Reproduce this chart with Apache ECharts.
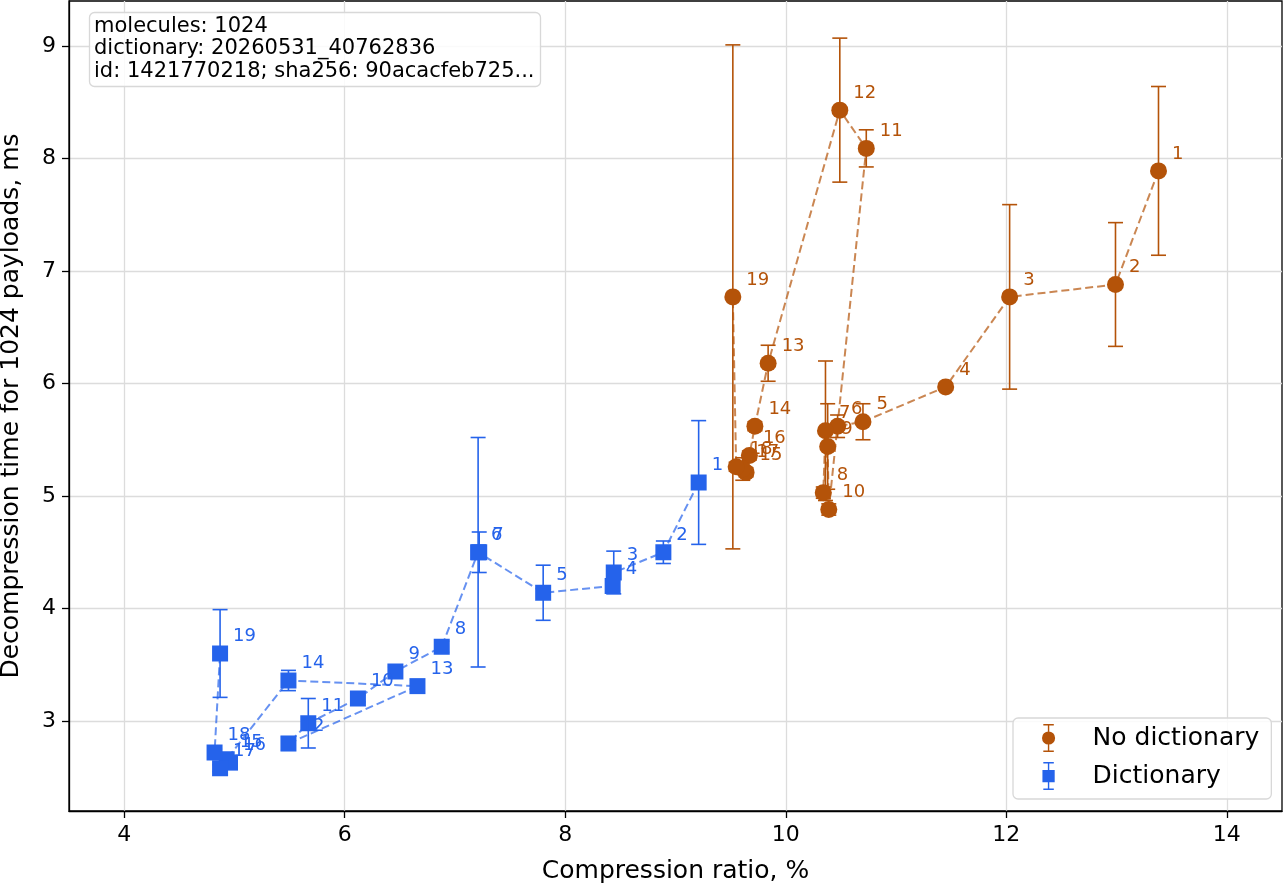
<!DOCTYPE html>
<html>
<head>
<meta charset="utf-8">
<script src="https://cdn.jsdelivr.net/npm/echarts@6/dist/echarts.min.js"></script>
<style>html,body{margin:0;padding:0;background:#fff}#c{width:1284px;height:888px}</style>
</head>
<body>
<div id="c"></div>
<script>
// ---- data ----
const xTicks = [4, 6, 8, 10, 12, 14];
const yTicks = [3, 4, 5, 6, 7, 8, 9];

const noDictX   = [13.38, 12.99, 12.03, 11.45, 10.70, 10.47, 10.36, 10.34, 10.38, 10.39, 10.73, 10.49, 9.84, 9.72, 9.64, 9.67, 9.61, 9.55, 9.52];
const noDictY   = [7.89, 6.88, 6.77, 5.97, 5.66, 5.62, 5.58, 5.03, 5.44, 4.88, 8.09, 8.43, 6.18, 5.62, 5.21, 5.36, 5.24, 5.26, 6.77];
const noDictErr = [0.75, 0.55, 0.82, 0.03, 0.16, 0.10, 0.62, 0.05, 0.38, 0.05, 0.165, 0.64, 0.16, 0.04, 0.04, 0.04, 0.10, 0.04, 2.24];

const dictX   = [9.21, 8.89, 8.44, 8.43, 7.80, 7.21, 7.22, 6.88, 6.46, 6.12, 5.67, 5.49, 6.66, 5.49, 4.93, 4.96, 4.87, 4.82, 4.87];
const dictY   = [5.12, 4.50, 4.32, 4.20, 4.14, 4.50, 4.50, 3.66, 3.44, 3.20, 2.98, 2.80, 3.31, 3.36, 2.66, 2.63, 2.58, 2.72, 3.60];
const dictErr = [0.55, 0.10, 0.19, 0.04, 0.245, 1.02, 0.18, 0.05, 0.04, 0.03, 0.22, 0.06, 0.05, 0.09, 0.04, 0.04, 0.03, 0.03, 0.39];

const infoLines = ['molecules: 1024', 'dictionary: 20260531_40762836', 'id: 1421770218; sha256: 90acacfeb725...'];

const ORANGE = '#b45309';
const BLUE = '#2563eb';
const FONT = 'DejaVu Sans';

// ---- build ----
function pairs(xs, ys) { return xs.map((x, i) => [x, ys[i]]); }
function triples(xs, ys, es) { return xs.map((x, i) => [x, ys[i], es[i]]); }

function errRender(color) {
  return function (params, api) {
    const x = api.value(0), y = api.value(1), e = api.value(2);
    const t = api.coord([x, y + e]);
    const b = api.coord([x, y - e]);
    const hw = 7.5;
    const st = { stroke: color, lineWidth: 1.6 };
    return {
      type: 'group',
      children: [
        { type: 'line', shape: { x1: t[0], y1: t[1], x2: b[0], y2: b[1] }, style: st },
        { type: 'line', shape: { x1: t[0] - hw, y1: t[1], x2: t[0] + hw, y2: t[1] }, style: st },
        { type: 'line', shape: { x1: b[0] - hw, y1: b[1], x2: b[0] + hw, y2: b[1] }, style: st }
      ]
    };
  };
}

const iconCircle = 'path://M4,0L16,0L16,1.6L4,1.6Z M9.2,0L10.8,0L10.8,8.6L9.2,8.6Z M2.5,16A7.5,7.5 0 1 1 17.5,16A7.5,7.5 0 1 1 2.5,16Z M9.2,23.4L10.8,23.4L10.8,32L9.2,32Z M4,30.4L16,30.4L16,32L4,32Z';
const iconSquare = 'path://M4,0L16,0L16,1.6L4,1.6Z M9.2,0L10.8,0L10.8,9L9.2,9Z M3,9L17,9L17,23L3,23Z M9.2,23L10.8,23L10.8,32L9.2,32Z M4,30.4L16,30.4L16,32L4,32Z';

function scatterSeries(name, xs, ys, color, symbol, size) {
  return {
    name: name, type: 'scatter', data: pairs(xs, ys), z: 5,
    symbol: symbol, symbolSize: size,
    itemStyle: { color: color, opacity: 1 },
    label: {
      show: true, position: 'right', distance: 5, offset: [0, -17],
      formatter: p => String(p.dataIndex + 1),
      color: color, fontSize: 18, fontFamily: FONT
    },
    emphasis: { disabled: true }
  };
}
function lineSeries(name, xs, ys, color) {
  return {
    name: name, type: 'line', data: pairs(xs, ys), z: 2,
    symbol: 'none', showSymbol: false,
    lineStyle: { color: color, width: 2, type: [8, 4], opacity: 0.7 },
    emphasis: { disabled: true }
  };
}
function errSeries(name, xs, ys, es, color) {
  return {
    name: name, type: 'custom', data: triples(xs, ys, es), z: 3,
    encode: { x: 0, y: 1 },
    renderItem: errRender(color)
  };
}

const chart = echarts.init(document.getElementById('c'), null, { renderer: 'canvas' });
chart.setOption({
  animation: false,
  backgroundColor: '#fff',
  textStyle: { fontFamily: FONT },
  grid: { left: 69, right: 2, top: 1, bottom: 77, outerBoundsMode: 'none', containLabel: false,
          show: true, borderColor: '#000', borderWidth: 1.3, backgroundColor: 'transparent' },
  title: {
    text: infoLines.join('\n'),
    left: 89, top: 12,
    padding: [3, 6, 4, 5],
    backgroundColor: 'rgba(255,255,255,0.85)',
    borderColor: '#d8d8d8', borderWidth: 1.3, borderRadius: 5,
    textStyle: { fontSize: 21, fontWeight: 'normal', color: '#000', lineHeight: 22.5, fontFamily: FONT }
  },
  legend: {
    data: [
      { name: 'No dictionary', icon: iconCircle },
      { name: 'Dictionary', icon: iconSquare }
    ],
    orient: 'vertical',
    left: 1013, top: 718,
    padding: [6, 12, 9, 29],
    itemWidth: 18, itemHeight: 28, itemGap: 10,
    backgroundColor: 'rgba(255,255,255,0.85)',
    borderColor: '#d8d8d8', borderWidth: 1.3, borderRadius: 5,
    formatter: n => '{t|' + n + '}',
    textStyle: {
      fontSize: 25, color: '#000', fontFamily: FONT,
      rich: { t: { fontSize: 25, color: '#000', fontFamily: FONT, padding: [0, 0, 0, 30] } }
    },
    selectedMode: false
  },
  xAxis: {
    type: 'value', min: 3.5, max: 14.5,
    name: 'Compression ratio, %', nameLocation: 'middle', nameGap: 48,
    nameTextStyle: { fontSize: 25, color: '#000', fontFamily: FONT },
    axisLine: { show: true, onZero: false, lineStyle: { color: '#000', width: 1.3 } },
    axisTick: { show: true, customValues: xTicks, length: 7, lineStyle: { color: '#000', width: 1.3 } },
    axisLabel: { customValues: xTicks, margin: 13, fontSize: 22, color: '#000', fontFamily: FONT },
    splitLine: { show: true, lineStyle: { color: '#dcdcdc', width: 1.3 } }
  },
  yAxis: {
    type: 'value', min: 2.2, max: 9.4,
    name: 'Decompression time for 1024 payloads, ms', nameLocation: 'middle', nameGap: 45,
    nameTextStyle: { fontSize: 25, color: '#000', fontFamily: FONT },
    axisLine: { show: true, onZero: false, lineStyle: { color: '#000', width: 1.3 } },
    axisTick: { show: true, customValues: yTicks, length: 7, lineStyle: { color: '#000', width: 1.3 } },
    axisLabel: { customValues: yTicks, margin: 13, fontSize: 22, color: '#000', fontFamily: FONT },
    splitLine: { show: true, lineStyle: { color: '#dcdcdc', width: 1.3 } }
  },
  series: [
    lineSeries('nd-line', noDictX, noDictY, ORANGE),
    lineSeries('d-line', dictX, dictY, BLUE),
    errSeries('nd-err', noDictX, noDictY, noDictErr, ORANGE),
    errSeries('d-err', dictX, dictY, dictErr, BLUE),
    scatterSeries('No dictionary', noDictX, noDictY, ORANGE, 'circle', 17),
    scatterSeries('Dictionary', dictX, dictY, BLUE, 'rect', 16)
  ]
});
</script>
</body>
</html>
